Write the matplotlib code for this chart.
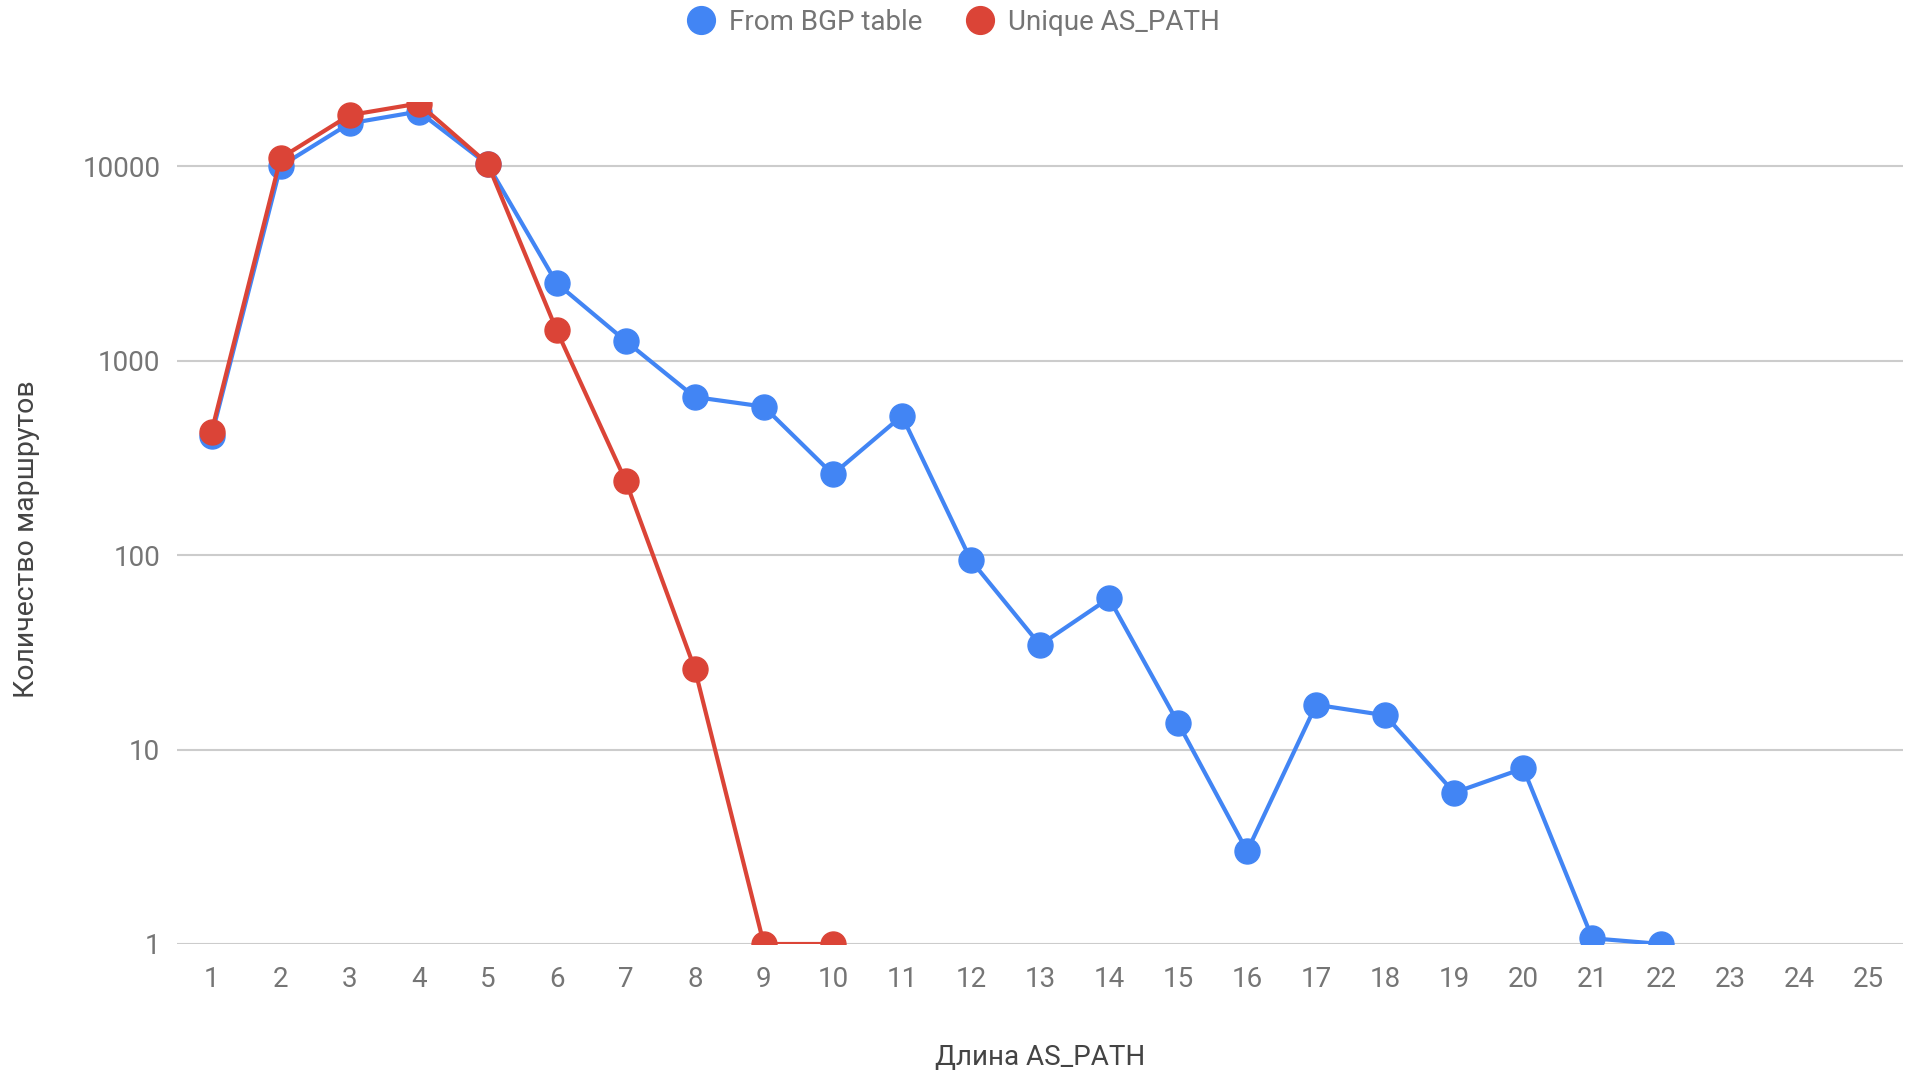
import matplotlib
matplotlib.use("Agg")
import matplotlib.pyplot as plt
from matplotlib.lines import Line2D
from matplotlib.ticker import FixedLocator, FixedFormatter, NullLocator

plt.rcParams['font.family'] = ['Roboto', 'DejaVu Sans']

path_len = list(range(1, 26))
x_labels = [str(i) for i in path_len]

bgp_x = list(range(1, 23))
bgp_vals = [410, 10000, 16600, 19100, 10200, 2500, 1260, 650, 580, 260, 520,
            94, 34.5, 60, 13.7, 3, 17, 15, 6, 8, 1.07, 1]

uniq_x = list(range(1, 11))
uniq_vals = [430, 11000, 18300, 21000, 10300, 1430, 240, 26, 1, 1]

y_ticks = [1, 10, 100, 1000, 10000]
y_tick_labels = ["1", "10", "100", "1000", "10000"]

series_names = ["From BGP table", "Unique AS_PATH"]
blue = "#4285F4"
red = "#DB4437"

W, H = 1907, 1074
L, R, T, B = 177, 1903, 102, 944

fig = plt.figure(figsize=(W/100, H/100), dpi=100)
ax = fig.add_axes([L/W, 1 - B/H, (R-L)/W, (B-T)/H])

ax.set_yscale('log')
ax.plot(bgp_x, bgp_vals, color=blue, lw=3.0, marker='o', ms=18, zorder=3)
ax.plot(uniq_x, uniq_vals, color=red, lw=3.0, marker='o', ms=18, zorder=4)

ax.set_xlim(0.5, 25.5)
ax.set_ylim(1, 10**4.33)

ax.yaxis.set_major_locator(FixedLocator(y_ticks))
ax.yaxis.set_major_formatter(FixedFormatter(y_tick_labels))
ax.yaxis.set_minor_locator(NullLocator())
ax.set_xticks(path_len)
ax.set_xticklabels(x_labels)

ax.grid(axis='y', color='#cccccc', lw=1.5)
ax.set_axisbelow(True)
for s in ax.spines.values():
    s.set_visible(False)
ax.tick_params(axis='both', length=0, labelsize=20, labelcolor='#757575')
ax.tick_params(axis='y', pad=12)
ax.tick_params(axis='x', pad=16)

ax.set_xlabel("Длина AS_PATH", fontsize=20, color='#444444')
ax.set_ylabel("Количество маршрутов", fontsize=20.5, color='#444444')
ax.xaxis.label.set_va('center')
ax.yaxis.label.set_va('center')
ax.xaxis.set_label_coords((1040-L)/(R-L), -(1057-B)/(B-T))
ax.yaxis.set_label_coords(-(L-27)/(R-L), 1 - (539-T)/(B-T))

handles = [Line2D([], [], ls='none', marker='o', ms=20, color=blue),
           Line2D([], [], ls='none', marker='o', ms=20, color=red)]
fig.legend(handles, series_names, loc='center', bbox_to_anchor=(0.5, 1 - 22/H),
           ncol=2, frameon=False, fontsize=20, labelcolor='#757575',
           handletextpad=0.5, columnspacing=1.6, handlelength=1.0)

fig.savefig("out.png", dpi=100, facecolor='white')
